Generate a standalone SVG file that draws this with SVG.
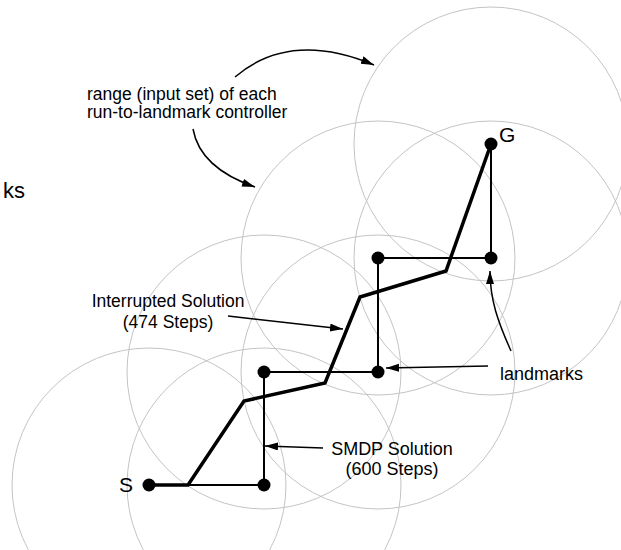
<svg xmlns="http://www.w3.org/2000/svg" width="621" height="550" viewBox="0 0 621 550">
<style>
.rng{fill:none;stroke:#c4c4c4;stroke-width:1}
.dot{fill:#000}
.lbl{font-family:"Liberation Sans",Arial,sans-serif;fill:#000}
.ann{fill:none;stroke:#000;stroke-width:1.5}
.smdp{fill:none;stroke:#000;stroke-width:2}
.intr{fill:none;stroke:#000;stroke-width:3.5;stroke-linejoin:miter}
</style>
<defs>
<marker id="ah" markerUnits="userSpaceOnUse" markerWidth="14" markerHeight="10" refX="13" refY="4" orient="auto">
<path d="M0,0 L13,4 L0,8 Z" fill="#000"/>
</marker>
</defs>
<rect width="621" height="550" fill="#fff"/>
<g id="ranges">
<circle class="rng" cx="149" cy="485" r="137"/>
<circle class="rng" cx="264" cy="485" r="137"/>
<circle class="rng" cx="264" cy="372" r="137"/>
<circle class="rng" cx="378" cy="372" r="137"/>
<circle class="rng" cx="378" cy="258" r="137"/>
<circle class="rng" cx="491" cy="258" r="137"/>
<circle class="rng" cx="491" cy="144" r="137"/>
</g>
<g id="connectors">
<polyline id="smdp-path" class="smdp" points="149,485 264,485 264,372 378,372 378,258 491,258 491,144"/>
<polyline id="interrupted-path" class="intr" points="149,485 188,485 244,401 325,383 360,297 446,271 491,144"/>
<path class="ann" d="M235,77 Q290,30 374,65" marker-end="url(#ah)"/>
<path class="ann" d="M193,129 Q200,168 255,187" marker-end="url(#ah)"/>
<path class="ann" d="M228,316 L343,329" marker-end="url(#ah)"/>
<path class="ann" d="M323,448 L265,446" marker-end="url(#ah)"/>
<path class="ann" d="M488,366 L386,368" marker-end="url(#ah)"/>
<path class="ann" d="M511,351 C498,322 490,300 490,271" marker-end="url(#ah)"/>
</g>
<g id="node-S">
<circle class="dot" cx="149" cy="485" r="6.5"/>
<text class="lbl" x="119" y="492" font-size="21">S</text>
</g>
<g id="node-L1"><circle class="dot" cx="264" cy="485" r="6.5"/></g>
<g id="node-L2"><circle class="dot" cx="264" cy="372" r="6.5"/></g>
<g id="node-L3"><circle class="dot" cx="378" cy="372" r="6.5"/></g>
<g id="node-L4"><circle class="dot" cx="378" cy="258" r="6.5"/></g>
<g id="node-L5"><circle class="dot" cx="491" cy="258" r="6.5"/></g>
<g id="node-G">
<circle class="dot" cx="491" cy="144" r="6.5"/>
<text class="lbl" x="499" y="142" font-size="21">G</text>
</g>
<g id="labels">
<text class="lbl" x="25" y="198" font-size="22" text-anchor="end">ks</text>
<text class="lbl" x="87" y="100" font-size="17.5">range (input set) of each</text>
<text class="lbl" x="87" y="117.5" font-size="17.5">run-to-landmark controller</text>
<text class="lbl" x="168" y="307" font-size="17.5" text-anchor="middle">Interrupted Solution</text>
<text class="lbl" x="168" y="328" font-size="17.5" text-anchor="middle">(474 Steps)</text>
<text class="lbl" x="392" y="455" font-size="18" text-anchor="middle">SMDP Solution</text>
<text class="lbl" x="392" y="475" font-size="18" text-anchor="middle">(600 Steps)</text>
<text class="lbl" x="500" y="380" font-size="18">landmarks</text>
</g>
</svg>
